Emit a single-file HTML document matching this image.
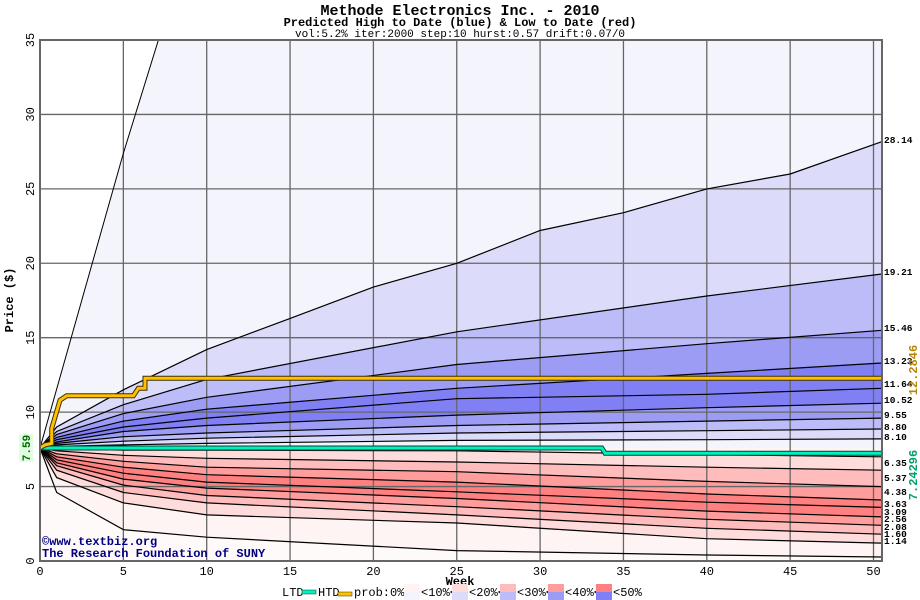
<!DOCTYPE html>
<html><head><meta charset="utf-8"><style>
body{margin:0;background:#fff;}
svg{display:block;font-family:"Liberation Mono","DejaVu Sans Mono",monospace;}
</style></head><body>
<svg id="chart" width="920" height="600" viewBox="0 0 920 600" xmlns="http://www.w3.org/2000/svg">
<text x="460" y="15" text-anchor="middle" font-size="15" font-weight="bold">Methode Electronics Inc. - 2010</text>
<text x="460" y="26" text-anchor="middle" font-size="12" font-weight="bold">Predicted High to Date (blue) &amp;  Low to Date (red)</text>
<text x="460" y="37" text-anchor="middle" font-size="11">vol:5.2% iter:2000 step:10 hurst:0.57 drift:0.07/0</text>
<defs><clipPath id="pc"><rect x="40" y="40" width="842" height="521"/></clipPath></defs>
<g id="bands" clip-path="url(#pc)"></g>
<g id="grid"></g>
<g id="lines" clip-path="url(#pc)"></g>
<g id="axes"></g>
<text x="460" y="585" text-anchor="middle" font-size="12" font-weight="bold">Week</text>
<text transform="translate(13,300) rotate(-90)" text-anchor="middle" font-size="12" font-weight="bold">Price ($)</text>
<rect x="19" y="434" width="14" height="28" fill="#e0ffe0"/>
<text transform="translate(30,448) rotate(-90)" text-anchor="middle" font-size="11" font-weight="bold" fill="#006600">7.59</text>
<text x="42" y="545" font-size="12" font-weight="bold" fill="#000080">©www.textbiz.org</text>
<text x="42" y="557" font-size="12" font-weight="bold" fill="#000080">The Research Foundation of SUNY</text>
<g id="rlabels"></g>
<text transform="translate(917,370) rotate(-90)" text-anchor="middle" font-size="12" font-weight="bold" fill="#b8860b">12.2846</text>
<text transform="translate(917,475) rotate(-90)" text-anchor="middle" font-size="12" font-weight="bold" fill="#00a070">7.24296</text>
<g id="legend"></g>
</svg>
<script>
const weeks=[0,1,5,10,25,40,50.5];
const topWeeks=[0,1,5,10,15,20,25,30,35,40,45,50.5];
const maxWeeks=[0,5,7.1,50.5];
const maxVals=[7.59,27.4,35,200];
const q28=[7.59,9.0,11.5,14.2,16.3,18.4,20.0,22.2,23.4,25.0,26.0,28.17];
const q19=[7.59,8.7,10.5,12.2,15.4,17.8,19.28];
const q15=[7.59,8.5,9.9,11.0,13.2,14.6,15.5];
const q13=[7.59,8.3,9.4,10.2,11.6,12.6,13.3];
const q11=[7.59,8.15,9.0,9.6,10.9,11.2,11.6];
const q10=[7.59,8.0,8.7,9.1,9.8,10.3,10.6];
const q9=[7.59,7.9,8.35,8.6,9.1,9.4,9.6];
const q8a=[7.59,7.8,8.05,8.25,8.6,8.75,8.87];
const q8b=[7.59,7.7,7.8,7.9,8.1,8.15,8.2];
const base=[7.59,7.59,7.59,7.59,7.59,7.59,7.59];
const l6=[7.59,7.55,7.45,7.45,7.4,7.15,7.0];
const l5=[7.59,7.4,7.1,6.9,6.65,6.3,6.1];
const l4=[7.59,7.2,6.7,6.3,6.0,5.35,5.0];
const l3a=[7.59,7.0,6.3,5.8,5.3,4.5,4.1];
const l3b=[7.59,6.8,5.9,5.3,4.65,3.95,3.6];
const l2a=[7.59,6.6,5.5,4.9,4.2,3.35,2.96];
const l2b=[7.59,6.4,5.1,4.4,3.65,2.8,2.4];
const l1a=[7.59,6.1,4.6,3.9,3.1,2.2,1.8];
const l1b=[7.59,5.6,3.9,3.1,2.55,1.5,1.2];
const minC=[7.59,4.6,2.1,1.6,0.7,0.4,0.27];
const htdWeeks=[0,0.3,0.7,0.7,1.2,1.6,5.6,5.9,6.3,6.3,50.5];
const htdVals=[7.59,7.8,7.9,8.9,10.8,11.1,11.1,11.6,11.6,12.28,12.28];
const ltdWeeks=[0,33.7,33.9,50.5];
const ltdVals=[7.59,7.59,7.24,7.24];
const rightLabels=["28.14","19.21","15.46","13.23","11.64","10.52","9.55","8.80","8.10","6.35","5.37","4.38","3.63","3.09","2.56","2.08","1.60","1.14"];
const xTicks=[0,5,10,15,20,25,30,35,40,45,50];
const yTicks=[0,5,10,15,20,25,30,35];

const NS="http://www.w3.org/2000/svg";
const X=w=>40+w*16.67, Y=v=>561-v*14.886;
function mk(tag,attrs,parent){const e=document.createElementNS(NS,tag);for(const k in attrs)e.setAttribute(k,attrs[k]);parent.appendChild(e);return e;}
function pts(ws,vs){return ws.map((w,i)=>X(w).toFixed(1)+","+Y(vs[i]).toFixed(1));}
const bands=document.getElementById('bands'),lines=document.getElementById('lines'),grid=document.getElementById('grid');
const maxPts=pts(maxWeeks,maxVals);
const curves=[[topWeeks,q28],[weeks,q19],[weeks,q15],[weeks,q13],[weeks,q11],[weeks,q10],[weeks,q9],[weeks,q8a],[weeks,q8b],[weeks,base],[weeks,l6],[weeks,l5],[weeks,l4],[weeks,l3a],[weeks,l3b],[weeks,l2a],[weeks,l2b],[weeks,l1a],[weeks,l1b],[weeks,minC]];
let p=mk('polygon',{points:maxPts.concat(pts(topWeeks,q28).reverse()).join(' '),fill:'#f4f4fd'},bands);


const cols=['#dcdcfa','#bcbcf8','#9c9cf5','#8080f4','#8080f4','#9c9cf5','#bcbcf8','#dcdcfa','#f4f4fd','#fff4f4','#ffdcdc','#ffbcbc','#ff9c9c','#ff8080','#ff8080','#ff9c9c','#ffbcbc','#ffdcdc','#fff4f4'];
for(let i=0;i<curves.length-1;i++){
  const a=pts(curves[i][0],curves[i][1]),b=pts(curves[i+1][0],curves[i+1][1]).reverse();
  const e=mk('polygon',{points:a.concat(b).join(' '),fill:cols[i]},bands);
  
  
}
const bl=mk('polygon',{points:pts(weeks,minC).concat([X(50.5)+",561",X(0)+",561"]).join(' '),fill:'#fffafa'},bands);


xTicks.forEach(t=>{const e=mk('line',{x1:X(t),x2:X(t),y1:40,y2:561,stroke:'#666','stroke-width':1.3},grid);

});
yTicks.forEach(t=>{const e=mk('line',{x1:40,x2:882,y1:Y(t),y2:Y(t),stroke:'#666','stroke-width':1.3},grid);

});
const ml=mk('polyline',{points:maxPts.join(' '),fill:'none',stroke:'#000','stroke-width':1},lines);


curves.forEach((c,i)=>{
  if(c[1]===base)return;
  const e=mk('polyline',{points:pts(c[0],c[1]).join(' '),fill:'none',stroke:'#000','stroke-width':1.2},lines);
  
  
});
const ltdP=pts(ltdWeeks,ltdVals).join(' ');
let e1=mk('polyline',{points:ltdP,fill:'none',stroke:'#004030','stroke-width':5},lines);


let e2=mk('polyline',{points:ltdP,fill:'none',stroke:'#00f0c0','stroke-width':3},lines);


const htdP=pts(htdWeeks,htdVals).join(' ');
let e3=mk('polyline',{points:htdP,fill:'none',stroke:'#403000','stroke-width':5},lines);


let e4=mk('polyline',{points:htdP,fill:'none',stroke:'#ffc000','stroke-width':3},lines);


const axes=document.getElementById('axes');
let fr=mk('rect',{x:40,y:40,width:842,height:521,fill:'none',stroke:'#666','stroke-width':2},axes);


xTicks.forEach(t=>{const e=mk('text',{x:X(t),y:575,'text-anchor':'middle','font-size':12},axes);e.textContent=t;

});
yTicks.forEach(t=>{const e=mk('text',{transform:`translate(34,${Y(t)}) rotate(-90)`,'text-anchor':'middle','font-size':12},axes);e.textContent=t;

});
const rl=document.getElementById('rlabels');
const rlY=[140,272,328,361,384,400,415,427,437,463,478,492,504,512,519,527,534,541];
rightLabels.forEach((t,i)=>{const e=mk('text',{x:884,y:rlY[i]+3,'font-size':9.5,'font-weight':'bold'},rl);e.textContent=t;

});
const lg=document.getElementById('legend');
function txt(x,s){const e=mk('text',{x:x,y:596,'font-size':12},lg);e.textContent=s;

return e;}
txt(282,'LTD');
let s1=mk('rect',{x:302,y:590,width:14,height:4,fill:'#00f0c0',stroke:'#004030','stroke-width':0.5},lg);


txt(318,'HTD');
let s2=mk('rect',{x:338,y:592,width:14,height:4,fill:'#ffc000',stroke:'#403000','stroke-width':0.5},lg);


txt(354,'prob:0%<');
const lgP=['#fff4f4','#ffdcdc','#ffbcbc','#ff9c9c','#ff8080'],lgB=['#f4f4fd','#dcdcfa','#bcbcf8','#9c9cf5','#8080f4'],lgT=['<10%<','<20%<','<30%<','<40%<','<50%'];
lgP.forEach((c,i)=>{const x=404+i*48;
 let a=mk('rect',{x:x,y:584,width:16,height:8,fill:c},lg);
 
 
 let b=mk('rect',{x:x,y:592,width:16,height:8,fill:lgB[i]},lg);
 
 
 txt(x+17,lgT[i]);
});
</script>
</body></html>
